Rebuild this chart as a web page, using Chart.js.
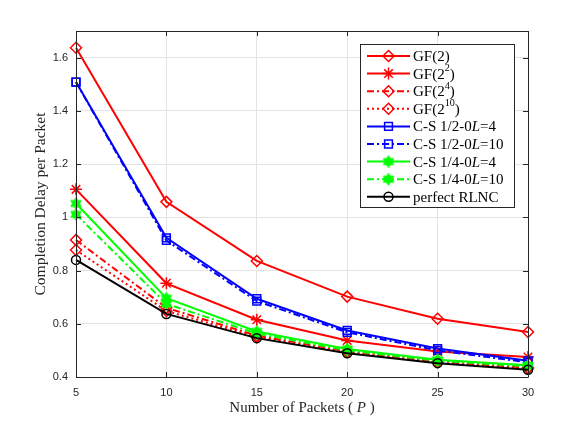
<!DOCTYPE html>
<html>
<head>
<meta charset="utf-8">
<script src="https://cdn.jsdelivr.net/npm/chart.js"></script>
<style>
  body { margin: 0; background: #fff; }
  #wrap { width: 581px; height: 425px; }
</style>
</head>
<body>
<div id="wrap"><canvas id="myChart" width="581" height="425"></canvas></div>
<script>
// data
var xValues = [5, 10, 15, 20, 25, 30];
var yTicks = [0.4, 0.6, 0.8, 1.0, 1.2, 1.4, 1.6];

var gf2 = [1.637, 1.058, 0.836, 0.702, 0.619, 0.569];
var gf4 = [1.105, 0.752, 0.615, 0.537, 0.496, 0.475];
var gf16 = [0.915, 0.660, 0.555, 0.497, 0.458, 0.435];
var gf1024 = [0.877, 0.648, 0.550, 0.494, 0.456, 0.432];
var cs12L4 = [1.508, 0.923, 0.694, 0.575, 0.507, 0.461];
var cs12L10 = [1.508, 0.913, 0.685, 0.568, 0.500, 0.455];
var cs14L4 = [1.052, 0.696, 0.571, 0.505, 0.465, 0.444];
var cs14L10 = [1.011, 0.675, 0.563, 0.500, 0.461, 0.440];
var rlnc = [0.840, 0.637, 0.546, 0.489, 0.452, 0.427];

// legend text pieces: [text, kind]  kind: '' normal, 'sup' superscript, 'it' italic
var seriesNames = [
    [['GF(2', ''], [')', '']],
    [['GF(2', ''], ['2', 'sup'], [')', '']],
    [['GF(2', ''], ['4', 'sup'], [')', '']],
    [['GF(2', ''], ['10', 'sup'], [')', '']],
    [['C-S 1/2-0', ''], ['L', 'it'], ['=4', '']],
    [['C-S 1/2-0', ''], ['L', 'it'], ['=10', '']],
    [['C-S 1/4-0', ''], ['L', 'it'], ['=4', '']],
    [['C-S 1/4-0', ''], ['L', 'it'], ['=10', '']],
    [['perfect RLNC', '']]
];

// hexagram marker
function makeHexagram(color) {
    var c = document.createElement('canvas');
    c.width = 14; c.height = 14;
    var g = c.getContext('2d');
    var r = 6, ri = r / Math.sqrt(3);
    g.beginPath();
    for (var k = 0; k < 12; k++) {
        var a = -Math.PI / 2 + k * Math.PI / 6;
        var rr = (k % 2 === 0) ? r : ri;
        var px = 7 + rr * Math.cos(a), py = 7 + rr * Math.sin(a);
        if (k === 0) g.moveTo(px, py); else g.lineTo(px, py);
    }
    g.closePath();
    g.fillStyle = color;
    g.fill();
    g.strokeStyle = color;
    g.lineWidth = 1;
    g.stroke();
    return c;
}
var hexGreen = makeHexagram('#00ff00');

var clear = 'rgba(0,0,0,0)';
function series(values, color, dash, style, radius) {
    return {
        data: xValues.map((x, i) => ({x: x, y: values[i]})),
        borderColor: color,
        borderWidth: 2,
        borderDash: dash,
        pointStyle: style,
        pointRadius: radius,
        pointBorderColor: color,
        pointBackgroundColor: clear,
        pointBorderWidth: 1.5,
        fill: false,
        clip: false,
        tension: 0
    };
}

var dashDot = [7, 3, 2, 3];
var datasets = [
    series(gf2, '#ff0000', [], 'rectRot', 5.5),
    series(gf4, '#ff0000', [], 'star', 6),
    series(gf16, '#ff0000', dashDot, 'rectRot', 5.5),
    series(gf1024, '#ff0000', [2, 3], 'rectRot', 5.5),
    series(cs12L4, '#0000ff', [], 'rect', 5.5),
    series(cs12L10, '#0000ff', dashDot, 'rect', 5.5),
    series(cs14L4, '#00ff00', [], hexGreen, 6),
    series(cs14L10, '#00ff00', dashDot, hexGreen, 6),
    series(rlnc, '#000000', [], 'circle', 4.5)
];
datasets.forEach((d, i) => { d.order = datasets.length - i; });

var axisColor = '#262626';
var serif = '"Liberation Serif", "Times New Roman", serif';

function drawRich(ctx, parts, x, y, size) {
    parts.forEach(p => {
        var t = p[0], kind = p[1];
        if (kind === 'sup') {
            ctx.font = (size * 0.68) + 'px ' + serif;
            ctx.fillText(t, x, y - size * 0.4);
        } else if (kind === 'it') {
            ctx.font = 'italic ' + size + 'px ' + serif;
            ctx.fillText(t, x, y);
        } else {
            ctx.font = size + 'px ' + serif;
            ctx.fillText(t, x, y);
        }
        x += ctx.measureText(t).width;
    });
}

function richWidth(ctx, parts, size) {
    var w = 0;
    parts.forEach(p => {
        ctx.font = (p[1] === 'it' ? 'italic ' : '') + (p[1] === 'sup' ? size * 0.68 : size) + 'px ' + serif;
        w += ctx.measureText(p[0]).width;
    });
    return w;
}

var framePlugin = {
    id: 'frame',
    afterDraw(chart) {
        var ctx = chart.ctx;
        var a = chart.chartArea;
        var xs = chart.scales.x, ys = chart.scales.y;
        ctx.save();
        ctx.strokeStyle = axisColor;
        ctx.lineWidth = 1;
        ctx.beginPath();
        ctx.rect(a.left + 0.5, a.top + 0.5, a.right - a.left, a.bottom - a.top);
        xValues.forEach(v => {
            var px = Math.round(xs.getPixelForValue(v)) + 0.5;
            ctx.moveTo(px, a.bottom); ctx.lineTo(px, a.bottom - 5);
            ctx.moveTo(px, a.top); ctx.lineTo(px, a.top + 5);
        });
        yTicks.forEach(v => {
            var py = Math.round(ys.getPixelForValue(v)) + 0.5;
            ctx.moveTo(a.left, py); ctx.lineTo(a.left + 5, py);
            ctx.moveTo(a.right, py); ctx.lineTo(a.right - 5, py);
        });
        ctx.stroke();

        // axis titles
        ctx.fillStyle = axisColor;
        ctx.textBaseline = 'middle';
        var size = 15;
        var parts = [['Number of Packets ( ', ''], ['P', 'it'], [' )', '']];
        var w = richWidth(ctx, parts, size);
        ctx.textAlign = 'left';
        drawRich(ctx, parts, (a.left + a.right) / 2 - w / 2, 408, size);

        ctx.save();
        ctx.translate(41, (a.top + a.bottom) / 2);
        ctx.rotate(-Math.PI / 2);
        ctx.textAlign = 'center';
        ctx.font = '15.5px ' + serif;
        ctx.fillText('Completion Delay per Packet', 0, 0);
        ctx.restore();

        // legend box
        var bx = 360.5, by = 44.5, bw = 154, bh = 163;
        ctx.fillStyle = '#ffffff';
        ctx.fillRect(bx, by, bw, bh);
        ctx.strokeStyle = axisColor;
        ctx.lineWidth = 1;
        ctx.strokeRect(bx, by, bw, bh);
        var step = 17.6;
        datasets.forEach((d, i) => {
            var cy = 56 + i * step;
            ctx.save();
            ctx.strokeStyle = d.borderColor;
            ctx.lineWidth = 2;
            ctx.setLineDash(d.borderDash);
            ctx.beginPath();
            ctx.moveTo(367, cy); ctx.lineTo(410, cy);
            ctx.stroke();
            ctx.setLineDash([]);
            ctx.fillStyle = d.pointBackgroundColor;
            ctx.strokeStyle = d.pointBorderColor;
            ctx.lineWidth = d.pointBorderWidth;
            Chart.helpers.drawPoint(ctx, {
                pointStyle: d.pointStyle, radius: d.pointRadius,
                rotation: 0, borderWidth: d.pointBorderWidth
            }, 388.5, cy);
            ctx.restore();
            ctx.fillStyle = '#000';
            ctx.textAlign = 'left';
            ctx.textBaseline = 'middle';
            drawRich(ctx, seriesNames[i], 413, cy + 1, 15);
        });
        ctx.restore();
    }
};

var ctx = document.getElementById('myChart').getContext('2d');
var myChart = new Chart(ctx, {
    type: 'line',
    data: { datasets: datasets },
    options: {
        responsive: false,
        animation: false,
        layout: { padding: { left: 0, right: 53, top: 31, bottom: 0 } },
        plugins: { legend: { display: false }, tooltip: { enabled: false } },
        scales: {
            x: {
                type: 'linear',
                min: 5,
                max: 30,
                afterBuildTicks: s => { s.ticks = xValues.map(v => ({value: v})); },
                afterFit: s => { s.height = 48; },
                grid: { color: '#e3e3e3', drawTicks: false },
                border: { display: false },
                ticks: {
                    padding: 9,
                    color: axisColor,
                    font: { family: '"Liberation Sans", Arial, sans-serif', size: 11 },
                    maxRotation: 0
                }
            },
            y: {
                min: 0.4,
                max: 1.7,
                afterBuildTicks: s => { s.ticks = yTicks.map(v => ({value: v})); },
                afterFit: s => { s.width = 76; },
                grid: { color: '#e3e3e3', drawTicks: false },
                border: { display: false },
                ticks: {
                    padding: 8,
                    color: axisColor,
                    font: { family: '"Liberation Sans", Arial, sans-serif', size: 11 },
                    callback: v => String(+v.toFixed(1))
                }
            }
        }
    },
    plugins: [framePlugin]
});
</script>
</body>
</html>
